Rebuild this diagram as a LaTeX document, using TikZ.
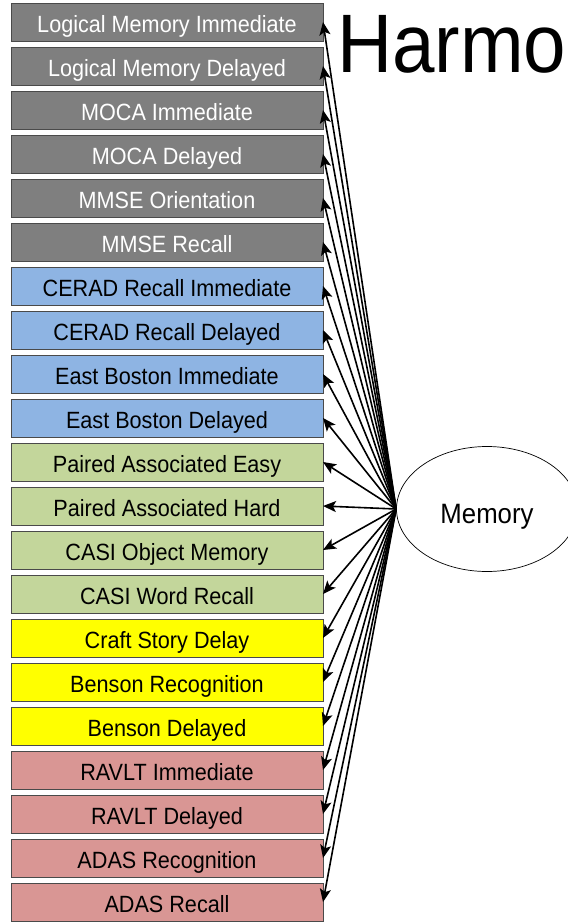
\documentclass[tikz,border=0pt]{standalone}
\usepackage{fontspec}
\setmainfont{Liberation Sans}
\newfontfamily\narrowsans[FakeStretch=0.92]{Liberation Sans}
\usetikzlibrary{
  arrows.meta,
  shapes.geometric,
  positioning
}
\definecolor{memGrey}{HTML}{7F7F7F}
\definecolor{memBlue}{HTML}{8EB4E3}
\definecolor{memGreen}{HTML}{C3D69B}
\definecolor{memYellow}{HTML}{FFFF00}
\definecolor{memPink}{HTML}{D99694}
\definecolor{memEdge}{HTML}{4A4A4A}
\tikzset{
  testbox/.style={
    draw=memEdge, line width=0.8pt, minimum width=312pt, minimum height=38pt,
    inner sep=0pt, outer sep=0pt, text height=20pt, text depth=0pt,
    font=\narrowsans\fontsize{23.5}{26}\selectfont
  },
  greybox/.style={testbox, fill=memGrey, text=white},
  bluebox/.style={testbox, fill=memBlue},
  greenbox/.style={testbox, fill=memGreen},
  yellowbox/.style={testbox, fill=memYellow},
  pinkbox/.style={testbox, fill=memPink},
  factor/.style={
    draw, ellipse, line width=0.7pt, minimum width=181pt, minimum height=125pt,
    inner sep=0pt, text height=28pt, text depth=0pt,
    font=\narrowsans\fontsize{28}{30}\selectfont
  },
  loading/.style={-{Stealth[length=13pt, width=11pt, inset=3pt]}, line width=1.6pt}
}

\begin{document}
\begin{tikzpicture}[x=1pt, y=-1pt, node distance=6pt]
  \useasboundingbox (0,0) rectangle (568,922);
  \clip (0,0) rectangle (568,922);

  \node[anchor=base west, inner sep=0pt, font=\narrowsans\fontsize{83}{83}\selectfont] (title) at (337,72) {Harmo};

  \node[greybox, anchor=north west] (lmi) at (11,3) {Logical Memory Immediate};
  \node[greybox, below=of lmi] (lmd) {Logical Memory Delayed};
  \node[greybox, below=of lmd] (mocai) {MOCA Immediate};
  \node[greybox, below=of mocai] (mocad) {MOCA Delayed};
  \node[greybox, below=of mocad] (mmseo) {MMSE Orientation};
  \node[greybox, below=of mmseo] (mmser) {MMSE Recall};
  \node[bluebox, below=of mmser] (ceradi) {CERAD Recall Immediate};
  \node[bluebox, below=of ceradi] (ceradd) {CERAD Recall Delayed};
  \node[bluebox, below=of ceradd] (ebi) {East Boston Immediate};
  \node[bluebox, below=of ebi] (ebd) {East Boston Delayed};
  \node[greenbox, below=of ebd] (pae) {Paired Associated Easy};
  \node[greenbox, below=of pae] (pah) {Paired Associated Hard};
  \node[greenbox, below=of pah] (casio) {CASI Object Memory};
  \node[greenbox, below=of casio] (casiw) {CASI Word Recall};
  \node[yellowbox, below=of casiw] (craft) {Craft Story Delay};
  \node[yellowbox, below=of craft] (bensonr) {Benson Recognition};
  \node[yellowbox, below=of bensonr] (bensond) {Benson Delayed};
  \node[pinkbox, below=of bensond] (ravlti) {RAVLT Immediate};
  \node[pinkbox, below=of ravlti] (ravltd) {RAVLT Delayed};
  \node[pinkbox, below=of ravltd] (adasrecog) {ADAS Recognition};
  \node[pinkbox, below=of adasrecog] (adasrecall) {ADAS Recall};

  \node[factor] (mem) at (487,509) {Memory};

  % one loading per test
  \foreach \t in {lmi,lmd,mocai,mocad,mmseo,mmser,ceradi,ceradd,ebi,ebd,
                  pae,pah,casio,casiw,craft,bensonr,bensond,ravlti,ravltd,adasrecog,adasrecall}
    \draw[loading] (mem.west) -- (\t.east);
\end{tikzpicture}
\end{document}
